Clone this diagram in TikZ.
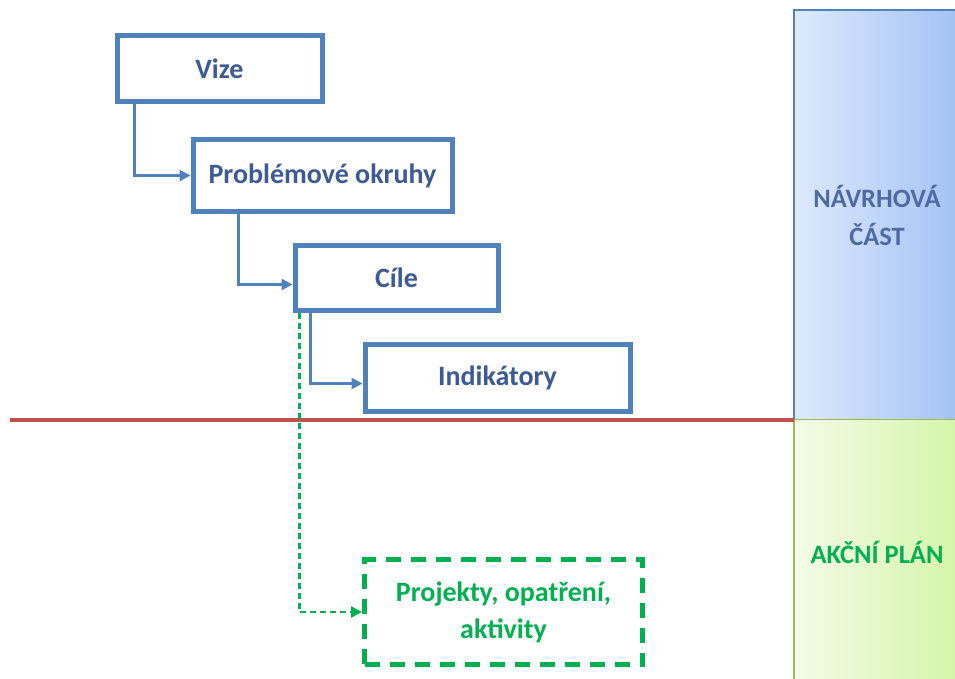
\documentclass[tikz,border=0pt]{standalone}
\usepackage{fontspec}
\setmainfont{Carlito}
\usetikzlibrary{arrows.meta,positioning}
\definecolor{boxblue}{RGB}{79,129,189}
\definecolor{txtblue}{RGB}{62,90,148}
\definecolor{navtxt}{RGB}{79,106,160}
\definecolor{plangreen}{RGB}{0,176,80}
\definecolor{linered}{RGB}{192,80,77}
\definecolor{navlight}{RGB}{222,233,252}
\definecolor{navdark}{RGB}{162,194,245}
\definecolor{aklight}{RGB}{243,251,232}
\definecolor{akdark}{RGB}{213,245,168}
\definecolor{akborder}{RGB}{155,187,89}

\begin{document}
\begin{tikzpicture}[x=1pt,y=-1pt,
  stage/.style={draw=boxblue,line width=5pt,fill=white,inner sep=0pt,text=txtblue,
    font=\fontsize{28}{38}\selectfont\bfseries},
  plan/.style={draw=plangreen,line width=5pt,dash pattern=on 15pt off 10pt,inner sep=0pt,
    text=plangreen,align=center,font=\fontsize{28}{37}\selectfont\bfseries},
  panel/.style={line width=1.4pt,inner sep=0pt,outer sep=0pt,minimum width=166pt,
    align=center,font=\fontsize{26.5}{38}\selectfont\bfseries},
  conn/.style={boxblue,line width=2.4pt,-{Triangle[length=11pt,width=11pt]}},
  dconn/.style={plangreen,line width=2.4pt,dash pattern=on 6pt off 4pt,-{Triangle[length=11pt,width=11pt]}}]
\useasboundingbox (0,0) rectangle (955,679);
\node[panel,draw=boxblue,left color=navlight,right color=navdark,text=navtxt,minimum height=410pt]
  (navrh) at (877,215) {NÁVRHOVÁ\\ČÁST};
\node[panel,draw=akborder,left color=aklight,right color=akdark,text=plangreen,minimum height=265pt]
  (akce) at (877,552) {AKČNÍ PLÁN};
\draw[linered,line width=3.2pt] (10,420) -- (navrh.south west);
\node[stage,minimum width=205pt,minimum height=66pt] (vize) at (219.5,69) {Vize};
\node[stage,minimum width=259pt,minimum height=71pt] (probl) at (322.5,175.5) {Problémové okruhy};
\node[stage,minimum width=203pt,minimum height=65pt] (cile) at (396.5,277.5) {Cíle};
\node[stage,minimum width=265pt,minimum height=67pt] (indik) at (497.5,377.5) {Indikátory};
\node[plan,minimum width=278pt,minimum height=105pt] (proj) at (503.5,612) {Projekty, opatření,\\aktivity};
\draw[conn] ([xshift=20pt]vize.south west) |- (probl.west);
\draw[conn] ([xshift=48pt]probl.south west) |- ([yshift=-7pt]cile.west);
\draw[conn] ([xshift=18pt]cile.south west) |- ([yshift=-6pt]indik.west);
\draw[dconn] ([xshift=7pt]cile.south west) |- (proj.west);
\end{tikzpicture}
\end{document}
